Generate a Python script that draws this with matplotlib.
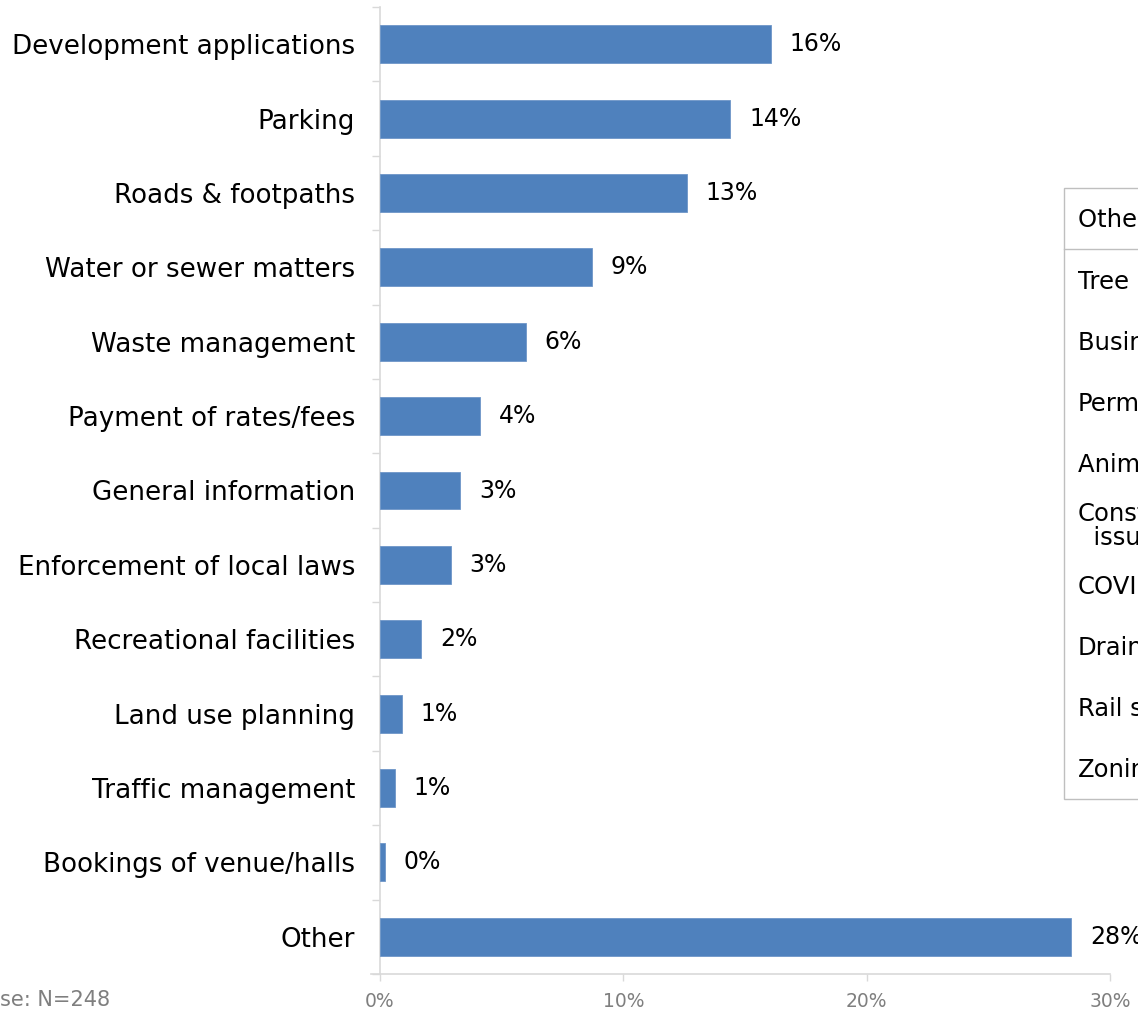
import matplotlib
matplotlib.use("Agg")
import matplotlib.pyplot as plt
from matplotlib.patches import Rectangle
from matplotlib.lines import Line2D

# Reasons for contacting council (share of responses)
categories = [
    "Development applications",
    "Parking",
    "Roads & footpaths",
    "Water or sewer matters",
    "Waste management",
    "Payment of rates/fees",
    "General information",
    "Enforcement of local laws",
    "Recreational facilities",
    "Land use planning",
    "Traffic management",
    "Bookings of venue/halls",
    "Other",
]
shares = [16.05, 14.4, 12.6, 8.7, 6.0, 4.1, 3.3, 2.9, 1.7, 0.9, 0.6, 0.2, 28.4]

x_ticks = [0, 10, 20, 30]
x_tick_labels = ["0%", "10%", "20%", "30%"]

base_note = "Base: N=248"

# Breakdown of "Other" responses shown in the side table
other_header = "Other (specified)"
other_rows = [
    "Tree management",
    "Business support",
    "Permits",
    "Animal management",
    "Construction\n  issues",
    "COVID-19",
    "Drainage",
    "Rail safety",
    "Zoning",
]

FONT = "DejaVu Sans"
BAR_COLOR = "#4F81BD"
AXIS_COLOR = "#D9D9D9"
TICK_TEXT = "#7F7F7F"

W, H = 1138, 1011
fig = plt.figure(figsize=(W / 100, H / 100), dpi=100)
fig.patch.set_facecolor("white")

def fx(px):
    return px / W

def fy(py):
    return 1 - py / H

ax = fig.add_axes([fx(380), fy(974), fx(1110) - fx(380), fy(7) - fy(974)])

n = len(categories)
ypos = list(range(n))
ax.barh(ypos, shares, height=0.51, color=BAR_COLOR, edgecolor="#6E96C8",
        linewidth=0.6, zorder=3)
ax.set_ylim(n - 0.5, -0.5)
ax.set_xlim(0, 30)

for y, v in zip(ypos, shares):
    ax.annotate(f"{v:.0f}%", xy=(v, y), xytext=(13.5, 0),
                textcoords="offset points", va="center", ha="left",
                fontsize=17, family=FONT, color="black")

# y axis: category labels centred on bars, ticks between categories
ax.set_yticks(ypos)
ax.set_yticklabels(categories, fontsize=18.8, family=FONT, color="black")
ax.tick_params(axis="y", which="major", length=0, pad=18)
ax.set_yticks([i - 0.5 for i in range(n + 1)], minor=True)
ax.tick_params(axis="y", which="minor", length=6, width=1, color=AXIS_COLOR)

ax.set_xticks(x_ticks)
ax.set_xticklabels(x_tick_labels, fontsize=13.5, family=FONT, color=TICK_TEXT)
ax.tick_params(axis="x", length=5, width=1, color=AXIS_COLOR, pad=8)

for side in ("top", "right"):
    ax.spines[side].set_visible(False)
for side in ("left", "bottom"):
    ax.spines[side].set_color(AXIS_COLOR)
    ax.spines[side].set_linewidth(1.2)
ax.spines["bottom"].set_bounds(-0.35, 30)

fig.text(fx(110), fy(1000), base_note, ha="right", va="center",
         fontsize=15, family=FONT, color=TICK_TEXT)

# Side table listing the "Other" responses
tbl_left, tbl_top, tbl_bottom, hdr_bottom = 1064, 188, 799, 249
fig.patches.append(Rectangle((fx(tbl_left), fy(tbl_bottom)),
                             fx(1300) - fx(tbl_left), fy(tbl_top) - fy(tbl_bottom),
                             transform=fig.transFigure, facecolor="white",
                             edgecolor="#BFBFBF", linewidth=1.0, zorder=5))
fig.lines.append(Line2D([fx(tbl_left), fx(1300)], [fy(hdr_bottom), fy(hdr_bottom)],
                        transform=fig.transFigure, color="#BFBFBF",
                        linewidth=1.0, zorder=6))
fig.text(fx(1078), fy((tbl_top + hdr_bottom) / 2 + 2), other_header,
         ha="left", va="center", fontsize=17.5, family=FONT, zorder=7)
row_h = (tbl_bottom - hdr_bottom) / len(other_rows)
for i, label in enumerate(other_rows):
    yc = hdr_bottom + row_h * (i + 0.5) + 2
    fig.text(fx(1078), fy(yc), label, ha="left", va="center",
             fontsize=17.5, family=FONT, linespacing=1.05, zorder=7)

fig.savefig("out.png", dpi=100, facecolor="white")
